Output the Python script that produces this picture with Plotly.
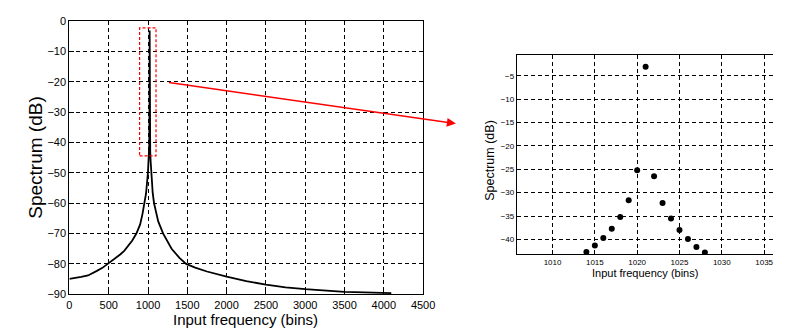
import plotly.graph_objects as go

# Main spectrum curve
main_bins = [0, 100, 150, 237, 300, 350, 420, 490, 600, 650, 700, 736, 800, 852, 900, 930, 956, 975, 999, 1010,
             1014, 1015, 1016, 1017, 1018, 1019, 1020, 1021, 1022, 1023, 1024, 1025, 1026, 1027, 1028,
             1033, 1040, 1060, 1077, 1100, 1130, 1193, 1250, 1300, 1400, 1485, 1600, 1750, 2000, 2250,
             2500, 2750, 3000, 3250, 3500, 3750, 4000, 4095]
main_db = [-84.9, -84.6, -84.3, -83.8, -83.1, -82.3, -81.3, -80.0, -78.0, -76.8, -75.6, -74.5, -72.3, -70.0,
           -67.0, -63.5, -60.0, -56.8, -50.0, -46.0,
           -42.7, -41.3, -39.7, -37.7, -35.2, -31.6, -25.2, -3.1, -26.5, -32.2, -35.5, -38.0, -39.9, -41.6, -42.8,
           -46.0, -50.0, -56.7, -60.0, -63.1, -66.0, -70.0, -72.9, -75.0, -78.0, -80.0, -81.2, -82.5, -84.2, -85.7,
           -86.8, -87.7, -88.3, -88.8, -89.2, -89.4, -89.6, -89.6]

# Zoomed samples
zoom_bins = [1014, 1015, 1016, 1017, 1018, 1019, 1020, 1021, 1022, 1023, 1024, 1025, 1026, 1027, 1028]
zoom_db = [-42.7, -41.3, -39.7, -37.7, -35.2, -31.6, -25.2, -3.1, -26.5, -32.2, -35.5, -38.0, -39.9, -41.6, -42.8]

main_xticks = [0, 500, 1000, 1500, 2000, 2500, 3000, 3500, 4000, 4500]
main_yticks = [0, -10, -20, -30, -40, -50, -60, -70, -80, -90]
zoom_xticks = [1010, 1015, 1020, 1025, 1030, 1035]
zoom_yticks = [-5, -10, -15, -20, -25, -30, -35, -40]

FONT = "Liberation Sans, Arial, sans-serif"
W, H = 785, 334

fig = go.Figure()
fig.add_trace(go.Scatter(x=main_bins, y=main_db, mode="lines",
                         line=dict(color="black", width=1.8), xaxis="x", yaxis="y",
                         showlegend=False))
fig.add_trace(go.Scatter(x=zoom_bins, y=zoom_db, mode="markers",
                         marker=dict(color="black", size=6), xaxis="x2", yaxis="y2",
                         showlegend=False))

axcommon = dict(showgrid=True, gridcolor="black", griddash="4px,3px", gridwidth=1,
                zeroline=False, linecolor="black", linewidth=1.3, ticks="inside",
                tickcolor="black", ticklen=4, showline=True)

fig.update_layout(
    width=W, height=H, margin=dict(l=0, r=0, t=0, b=0),
    paper_bgcolor="white", plot_bgcolor="white",
    font=dict(family=FONT, color="black"),
    xaxis=dict(domain=[67.7 / W, 428.3 / W], range=[0, 4500], tickvals=main_xticks,
               tickfont=dict(size=11), mirror=True, **axcommon),
    yaxis=dict(domain=[1 - 299 / H, 1 - 15.7 / H], range=[-90, 0], tickvals=main_yticks,
               tickfont=dict(size=11), mirror=True, **axcommon),
    xaxis2=dict(domain=[524 / W, 1.0], range=[1005.8, 1036.05], tickvals=zoom_xticks,
                tickfont=dict(size=8), anchor="y2", mirror=True, **axcommon),
    yaxis2=dict(domain=[1 - 257.7 / H, 1 - 50.7 / H], range=[-43.2, -0.55], tickvals=zoom_yticks,
                tickfont=dict(size=8), anchor="x2", mirror=False, **axcommon),
)

fig.add_shape(type="rect", xref="x", yref="y", x0=893, x1=1102, y0=-44.4, y1=-2.2,
              line=dict(color="red", width=1.2, dash="3px,2px"))

fig.add_annotation(xref="paper", yref="paper", axref="pixel", ayref="pixel",
                   x=461.7 / W, y=1 - 122 / H, ax=173.3 - 461.7, ay=80.7 - 122,
                   showarrow=True, arrowhead=2, arrowsize=1.2, arrowwidth=1.5,
                   arrowcolor="red", text="")

# Axis titles
fig.add_annotation(xref="paper", yref="paper", x=247 / W, y=1 - 325 / H, text="Input frequency (bins)",
                   showarrow=False, font=dict(size=15), xanchor="center", yanchor="middle")
fig.add_annotation(xref="paper", yref="paper", x=33 / W, y=1 - 157 / H, text="Spectrum (dB)",
                   showarrow=False, font=dict(size=19), textangle=-90, xanchor="center", yanchor="middle")
fig.add_annotation(xref="paper", yref="paper", x=655 / W, y=1 - 277 / H, text="Input frequency (bins)",
                   showarrow=False, font=dict(size=11), xanchor="center", yanchor="middle")
fig.add_annotation(xref="paper", yref="paper", x=497 / W, y=1 - 160 / H, text="Spectrum (dB)",
                   showarrow=False, font=dict(size=12.5), textangle=-90, xanchor="center", yanchor="middle")

fig.write_html("out.html")
